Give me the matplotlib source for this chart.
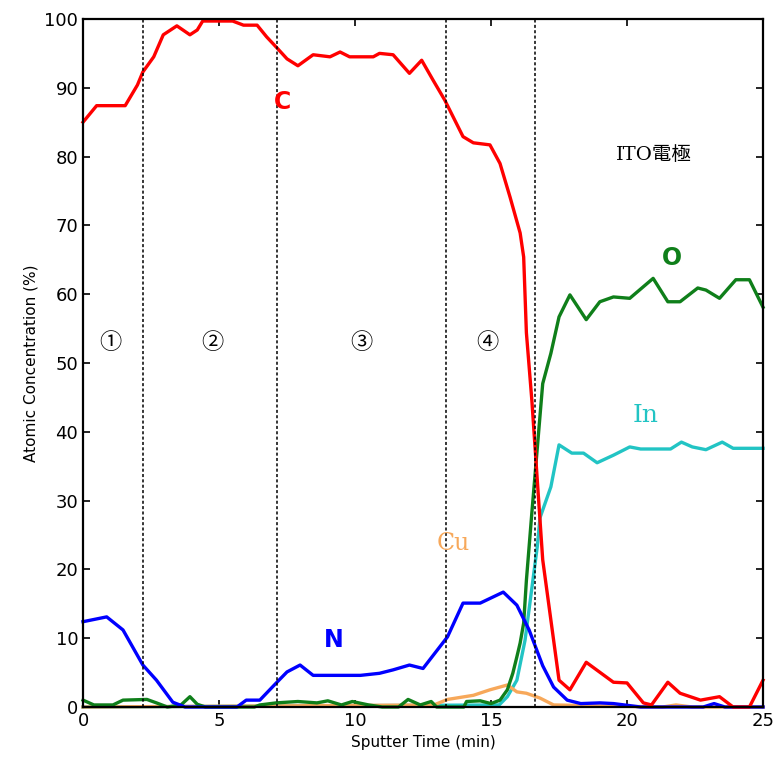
import numpy as np
import matplotlib
matplotlib.use('Agg')
from matplotlib import pyplot as plt

# values (sputter time in min, concentration in %)
c_x = [0, 0.5, 1.55, 2.0, 2.2, 2.6, 2.95, 3.45, 3.93, 4.2, 4.4, 5.5, 5.9, 6.4, 6.75,
       7.13, 7.5, 7.9, 8.46, 9.08, 9.45, 9.8, 10.67, 10.9, 11.4, 12.0, 12.45, 12.87,
       13.3, 13.97, 14.35, 14.96, 15.33, 15.7, 16.07, 16.2, 16.3, 16.5, 16.7, 16.9,
       17.5, 17.9, 18.5, 19.5, 20.0, 20.6, 20.9, 21.5, 21.95, 22.7, 23.4, 23.9, 24.5, 25]
c_y = [85.0, 87.4, 87.4, 90.4, 92.3, 94.5, 97.7, 99.0, 97.7, 98.4, 99.7, 99.7, 99.1,
       99.1, 97.4, 95.8, 94.2, 93.2, 94.8, 94.5, 95.2, 94.5, 94.5, 95.0, 94.8, 92.1,
       94.0, 91.1, 88.2, 82.9, 82.0, 81.7, 79.0, 74.1, 68.9, 65.4, 54.4, 44.6, 33.0,
       21.4, 3.9, 2.5, 6.5, 3.6, 3.5, 0.6, 0.3, 3.6, 2.0, 1.0, 1.5, 0, 0, 3.9]

n_x = [0, 0.87, 1.47, 2.2, 2.7, 3.3, 3.75, 5.66, 6.0, 6.5, 7.13, 7.5, 7.98, 8.46,
       10.2, 10.9, 11.4, 12.0, 12.5, 13.4, 13.97, 14.6, 15.45, 15.95, 16.4, 16.9,
       17.3, 17.8, 18.3, 19.0, 19.5, 20.5, 22.8, 23.2, 23.6, 25]
n_y = [12.4, 13.1, 11.2, 6.1, 3.9, 0.7, 0, 0, 1.0, 1.0, 3.6, 5.1, 6.1, 4.6,
       4.6, 4.9, 5.4, 6.1, 5.6, 10.2, 15.1, 15.1, 16.7, 14.8, 11.2, 6.0,
       2.9, 1.0, 0.5, 0.6, 0.5, 0, 0, 0.5, 0, 0]

o_x = [0, 0.4, 1.1, 1.47, 2.35, 2.7, 3.1, 3.6, 3.93, 4.2, 4.5, 6.3, 6.5, 7.1, 7.9,
       8.6, 9.0, 9.5, 9.9, 10.5, 11.0, 11.6, 11.95, 12.4, 12.8, 13.0, 14.0, 14.1,
       14.6, 15.0, 15.33, 15.6, 15.8, 15.95, 16.07, 16.2, 16.3, 16.5, 16.9, 17.2,
       17.5, 17.9, 18.5, 19.0, 19.5, 20.1, 20.96, 21.5, 21.95, 22.6, 22.9, 23.4,
       24.0, 24.5, 25]
o_y = [1.0, 0.3, 0.3, 1.0, 1.1, 0.6, 0, 0.3, 1.5, 0.4, 0, 0, 0.3, 0.6, 0.8,
       0.6, 0.9, 0.3, 0.8, 0.3, 0, 0, 1.1, 0.3, 0.8, 0, 0, 0.8,
       0.9, 0.5, 1.0, 2.5, 4.9, 7.3, 9.3, 12.2, 18.4, 28.2, 47.0, 51.4,
       56.7, 59.9, 56.3, 58.9, 59.6, 59.4, 62.3, 58.9, 58.9, 60.9, 60.6, 59.4,
       62.1, 62.1, 58.1]

in_x = [0, 15.3, 15.6, 15.95, 16.1, 16.25, 16.7, 16.8, 17.2, 17.5, 17.97, 18.4,
        18.9, 19.5, 20.1, 20.5, 21.6, 22.0, 22.4, 22.9, 23.5, 23.9, 25]
in_y = [0, 0.3, 1.5, 3.9, 6.8, 9.7, 23.3, 27.5, 32.0, 38.1, 36.9, 36.9,
        35.5, 36.6, 37.8, 37.5, 37.5, 38.5, 37.8, 37.4, 38.5, 37.6, 37.6]

cu_x = [0, 12.9, 13.4, 14.35, 14.96, 15.6, 15.95, 16.3, 16.8, 17.3, 21.3, 21.8, 22.4, 25]
cu_y = [0, 0.3, 1.1, 1.7, 2.5, 3.2, 2.2, 2.0, 1.3, 0.3, 0, 0.3, 0, 0]

bounds = [2.2, 7.13, 13.35, 16.6]
regions = ['①', '②', '③', '④']
region_x = [1.0, 4.75, 10.25, 14.85]

fig = plt.figure(figsize=(7.81, 7.65), dpi=100)
ax = fig.add_axes([0.1063, 0.0758, 0.8707, 0.8994])

lw = 2.4
ax.plot(in_x, in_y, color='#22c4c4', lw=lw, clip_on=False)
ax.plot(cu_x, cu_y, color='#f7a85a', lw=lw, clip_on=False)
ax.plot(o_x, o_y, color='#0f7f1a', lw=lw, clip_on=False)
ax.plot(n_x, n_y, color='#0000ff', lw=lw, clip_on=False)
ax.plot(c_x, c_y, color='#ff0000', lw=lw, clip_on=False)

for b in bounds:
    ax.axvline(b, color='black', lw=1.1, ls=(0, (2, 1.5)))

for rx, r in zip(region_x, regions):
    ax.text(rx, 53, r, fontsize=16, ha='center', va='center',
            family=['Noto Sans CJK JP', 'DejaVu Sans'])

ax.text(7.35, 88, 'C', color='#ff0000', fontsize=17, fontweight='bold', ha='center', va='center')
ax.text(21.65, 65.3, 'O', color='#0f7f1a', fontsize=17, fontweight='bold', ha='center', va='center')
ax.text(20.7, 42.4, 'In', color='#22c4c4', fontsize=18, ha='center', va='center', family='DejaVu Serif')
ax.text(13.6, 23.8, 'Cu', color='#f7a85a', fontsize=17, ha='center', va='center', family='DejaVu Serif')
ax.text(9.2, 9.7, 'N', color='#0000ff', fontsize=17, fontweight='bold', ha='center', va='center')
ax.text(21.0, 80.2, 'ITO電極', fontsize=14, ha='center', va='center',
        family=['DejaVu Serif', 'Noto Sans CJK JP'])

ax.set_xlim(0, 25)
ax.set_ylim(0, 100)
ax.set_xticks(np.arange(0, 26, 5))
ax.set_yticks(np.arange(0, 101, 10))
ax.tick_params(direction='in', length=5, width=1.2, top=True, right=True, labelsize=13)
for s in ax.spines.values():
    s.set_linewidth(1.6)
ax.set_xlabel('Sputter Time (min)', fontsize=11)
ax.set_ylabel('Atomic Concentration (%)', fontsize=11)

plt.savefig('out.png', dpi=100)
